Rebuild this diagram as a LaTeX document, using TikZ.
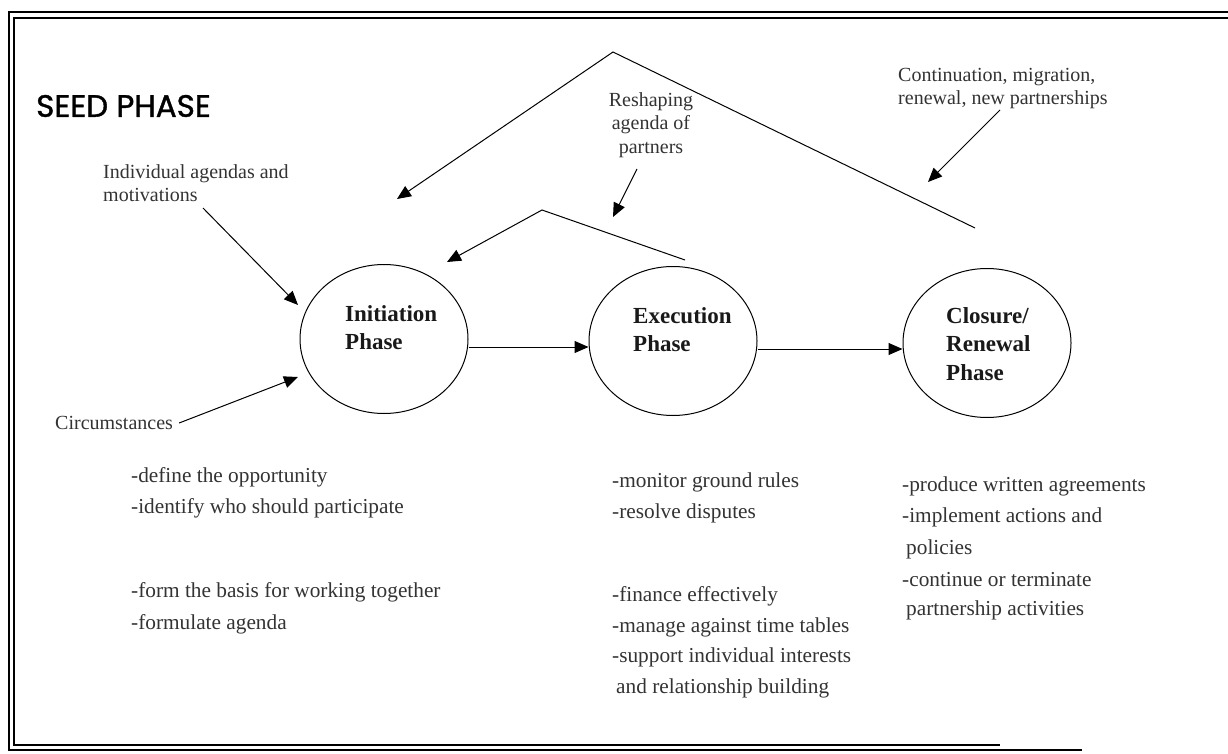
\documentclass[tikz,border=0pt]{standalone}
\usepackage{fontspec}
\setmainfont{Liberation Serif}
\newfontfamily\headfont{Poppins}[FakeBold=1.2]
\usetikzlibrary{arrows.meta,shapes.geometric}
\definecolor{ink}{gray}{0.2}
\tikzset{
  frameline/.style={line width=1.3pt, black},
  phase/.style={draw, ellipse, line width=1pt, minimum width=168pt, minimum height=149pt, inner sep=0pt},
  phasetxt/.style={align=left, font=\fontsize{23}{28.5}\selectfont\bfseries, text=black!90, inner sep=0pt},
  lbl/.style={font=\fontsize{20}{23.5}\selectfont, text=ink, inner sep=0pt, align=left},
  item/.style={font=\fontsize{21.3}{23}\selectfont, text=ink, inner sep=0pt, anchor=west},
  arr/.style={line width=1pt, -{Triangle[length=14pt,width=12pt]}},
  plain/.style={line width=1pt}
}
\begin{document}
\begin{tikzpicture}[x=1pt,y=-1pt]
\useasboundingbox (0,0) rectangle (1228,754);
\fill[white] (0,0) rectangle (1228,754);

% double frame, open at the right
\draw[frameline] (1228,12) -- (9,12) -- (9,750) -- (1082,750);
\draw[frameline] (1228,18) -- (14,18) -- (14,745) -- (1000,745);

% title
\node[anchor=west, inner sep=0pt, font=\headfont\fontsize{31}{34}\selectfont] (title) at (36,106) {SEED PHASE};

% phase ellipses
\node[phase] (init) at (384,339) {};
\node[phase] (exec) at (673,341) {};
\node[phase] (clos) at (987,343) {};
\node[phasetxt, anchor=north west] (initT) at (345,305) {Initiation\\Phase};
\node[phasetxt, anchor=north west] (execT) at (633,307) {Execution\\Phase};
\node[phasetxt, anchor=north west] (closT) at (946,307) {Closure/\\Renewal\\Phase};

% flow between phases
\draw[arr] ([yshift=-8pt]init.east) -- ([yshift=-6pt]exec.west);
\draw[arr] ([yshift=-8pt]exec.east) -- ([yshift=-6pt]clos.west);

% feedback chevrons
\coordinate (bigR) at (975,228);
\coordinate (bigTop) at (613,52);
\coordinate (bigTip) at (397,199);
\draw[arr, line join=miter] (bigR) -- (bigTop) -- (bigTip);

\coordinate (smR) at (685,260);
\coordinate (smTop) at (542,210);
\coordinate (smTip) at (447,262);
\draw[arr, line join=miter] (smR) -- (smTop) -- (smTip);

% annotations
\node[lbl, anchor=north west] (indiv) at (103,164) {Individual agendas and\\motivations};
\coordinate (indivTip) at (298,305);
\draw[arr] (203,208) coordinate (indivS) -- (indivTip);

\node[lbl, anchor=west] (circ) at (55,423) {Circumstances};
\coordinate (circTip) at (298,377);
\draw[arr] ([xshift=6pt]circ.east) -- (circTip);

\node[lbl, align=center, anchor=north] (resh) at (651,92) {Reshaping\\agenda of\\partners};
\coordinate (reshTip) at (613,217);
\draw[arr] (637,169) coordinate (reshS) -- (reshTip);

\node[lbl, anchor=north west] (cont) at (898,68) {Continuation, migration,\\renewal, new partnerships};
\coordinate (contTip) at (928,182);
\draw[arr] (1000,110) coordinate (contS) -- (contTip);

% activity lists
\node[item] (a1) at (131,477) {-define the opportunity};
\node[item] (a2) at (131,508) {-identify who should participate};
\node[item] (a3) at (131,592) {-form the basis for working together};
\node[item] (a4) at (131,624) {-formulate agenda};

\node[item] (b1) at (612,482) {-monitor ground rules};
\node[item] (b2) at (612,513) {-resolve disputes};
\node[item] (b3) at (612,596) {-finance effectively};
\node[item] (b4) at (612,627) {-manage against time tables};
\node[item] (b5) at (612,657) {-support individual interests};
\node[item] (b6) at (616,688) {and relationship building};

\node[item] (c1) at (902,486) {-produce written agreements};
\node[item] (c2) at (902,517) {-implement actions and};
\node[item] (c3) at (906,549) {policies};
\node[item] (c4) at (902,580) {-continue or terminate};
\node[item] (c5) at (906,610) {partnership activities};
\end{tikzpicture}
\end{document}
